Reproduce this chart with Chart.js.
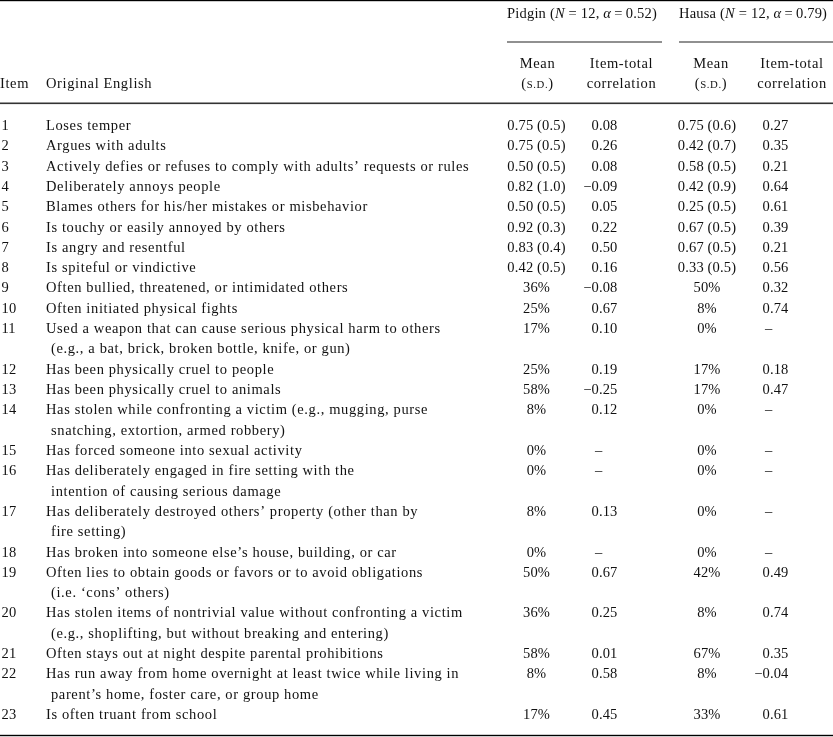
<!DOCTYPE html>
<html>
<head>
<meta charset="utf-8">
<script src="https://cdn.jsdelivr.net/npm/chart.js@4/dist/chart.umd.min.js"></script>
<style>
html,body{margin:0;padding:0;background:#fff;}
#c{display:block;}
</style>
</head>
<body>
<canvas id="c" width="833" height="737"></canvas>
<script>
// ---------------- DATA ----------------
const items = [1,2,3,4,5,6,7,8,9,10,11,12,13,14,15,16,17,18,19,20,21,22,23];
const descriptions = [
  ["Loses temper"],
  ["Argues with adults"],
  ["Actively defies or refuses to comply with adults\u2019 requests or rules"],
  ["Deliberately annoys people"],
  ["Blames others for his/her mistakes or misbehavior"],
  ["Is touchy or easily annoyed by others"],
  ["Is angry and resentful"],
  ["Is spiteful or vindictive"],
  ["Often bullied, threatened, or intimidated others"],
  ["Often initiated physical fights"],
  ["Used a weapon that can cause serious physical harm to others", "(e.g., a bat, brick, broken bottle, knife, or gun)"],
  ["Has been physically cruel to people"],
  ["Has been physically cruel to animals"],
  ["Has stolen while confronting a victim (e.g., mugging, purse", "snatching, extortion, armed robbery)"],
  ["Has forced someone into sexual activity"],
  ["Has deliberately engaged in fire setting with the", "intention of causing serious damage"],
  ["Has deliberately destroyed others\u2019 property (other than by", "fire setting)"],
  ["Has broken into someone else\u2019s house, building, or car"],
  ["Often lies to obtain goods or favors or to avoid obligations", "(i.e. \u2018cons\u2019 others)"],
  ["Has stolen items of nontrivial value without confronting a victim", "(e.g., shoplifting, but without breaking and entering)"],
  ["Often stays out at night despite parental prohibitions"],
  ["Has run away from home overnight at least twice while living in", "parent\u2019s home, foster care, or group home"],
  ["Is often truant from school"]
];
// Means: items 1-8 are mean scores (with s.d.), items 9-23 are percentages
const pidginMean = [0.75,0.75,0.50,0.82,0.50,0.92,0.83,0.42,36,25,17,25,58,8,0,0,8,0,50,36,58,8,17];
const pidginSD   = [0.5,0.5,0.5,1.0,0.5,0.3,0.4,0.5,null,null,null,null,null,null,null,null,null,null,null,null,null,null,null];
const pidginR    = [0.08,0.26,0.08,-0.09,0.05,0.22,0.50,0.16,-0.08,0.67,0.10,0.19,-0.25,0.12,null,null,0.13,null,0.67,0.25,0.01,0.58,0.45];
const hausaMean  = [0.75,0.42,0.58,0.42,0.25,0.67,0.67,0.33,50,8,0,17,17,0,0,0,0,0,42,8,67,8,33];
const hausaSD    = [0.6,0.7,0.5,0.9,0.5,0.5,0.5,0.5,null,null,null,null,null,null,null,null,null,null,null,null,null,null,null];
const hausaR     = [0.27,0.35,0.21,0.64,0.61,0.39,0.21,0.56,0.32,0.74,null,0.18,0.47,null,null,null,null,null,0.49,0.74,0.35,-0.04,0.61];
const groups = [
  {name:"Pidgin", n:12, alpha:0.52},
  {name:"Hausa",  n:12, alpha:0.79}
];
const colHeaders = [["Mean","(S.D.)"],["Item-total","correlation"]];
const leftHeaders = ["Item","Original English"];

// ---------------- LAYOUT / STYLE ----------------
const FONT = '"Liberation Serif", "Times New Roman", serif';
const FS = 14.5;
const INK = '#111';
const LS_TEXT = '0.62px';
const LS_NUM = '0.15px';
const LS_HEAD = '0.2px';

// line index of each item (rows with wrapped text take extra lines)
const lineIndex = [];
{ let L = 0; descriptions.forEach(d => { lineIndex.push(L); L += d.length; }); }

function fmtMean(m, sd){
  return sd == null ? (m + '%') : (m.toFixed(2) + ' (' + sd.toFixed(1) + ')');
}
function fmtR(r){
  if (r == null) return null;
  return (r < 0 ? '\u2212' : '') + Math.abs(r).toFixed(2);
}

const X = {
  item: 1.5, desc: 46, cont: 51,
  pMean: 536.5, pR: 617.5, pDash: 595,
  hMean: 707, hR: 788.5, hDash: 765
};

function drawSegs(ctx, segs, x, y, align){
  let w = 0;
  segs.forEach(s => { ctx.font = s.font; w += ctx.measureText(s.t).width; });
  let cx = align === 'center' ? x - w/2 : (align === 'right' ? x - w : x);
  segs.forEach(s => { ctx.font = s.font; ctx.textAlign = 'left'; ctx.fillText(s.t, cx, y); cx += ctx.measureText(s.t).width; });
}

const tablePlugin = {
  id: 'tablePlugin',
  afterDatasetsDraw(chart){
    const ctx = chart.ctx;
    const W = chart.width;
    ctx.save();
    ctx.textBaseline = 'alphabetic';
    const reg = `${FS}px ${FONT}`;
    const ital = `italic ${FS}px ${FONT}`;
    const sc = `${FS*0.74}px ${FONT}`;

    // rules
    ctx.fillStyle = '#000';
    ctx.fillRect(0, 0, W, 1.2);
    ctx.fillStyle = '#333';
    ctx.fillRect(0, 102.5, W, 1.6);
    ctx.fillStyle = '#222';
    ctx.fillRect(507, 41.5, 155, 1);
    ctx.fillRect(679, 41.5, W-679, 1);
    ctx.fillStyle = '#000';
    ctx.fillRect(0, 734.8, W, 1.4);

    ctx.fillStyle = INK;
    ctx.letterSpacing = LS_HEAD;
    // group headers
    const gx = [507, 679];
    groups.forEach((g, i) => {
      drawSegs(ctx, [
        {t: g.name + ' (', font: reg},
        {t: 'N', font: ital},
        {t: ' = ' + g.n + ', ', font: reg},
        {t: '\u03B1', font: ital},
        {t: '\u2009=\u20090' + g.alpha.toFixed(2).slice(1) + ')', font: reg}
      ], gx[i], 18.3, 'left');
    });
    // column headers
    ctx.letterSpacing = LS_TEXT;
    const meanCx = [537.5, 711];
    const rCx = [621.5, 792];
    [0,1].forEach(i => {
      drawSegs(ctx, [{t: colHeaders[0][0], font: reg}], meanCx[i], 68.3, 'center');
      drawSegs(ctx, [{t:'(', font: reg},{t:'S.D.', font: sc},{t:')', font: reg}], meanCx[i], 88, 'center');
      drawSegs(ctx, [{t: colHeaders[1][0], font: reg}], rCx[i], 68.3, 'center');
      drawSegs(ctx, [{t: colHeaders[1][1], font: reg}], rCx[i], 88, 'center');
    });
    ctx.font = reg; ctx.textAlign = 'left';
    ctx.fillText(leftHeaders[0], 0, 88);
    ctx.fillText(leftHeaders[1], X.desc, 88);

    // body rows from dataset points (y via scale)
    const meta = chart.getDatasetMeta(0);
    const ys = chart.scales.y;
    items.forEach((it, i) => {
      const y = meta.data[i].y;
      ctx.font = reg;
      ctx.letterSpacing = LS_NUM;
      ctx.textAlign = 'left';
      ctx.fillText(String(it), X.item, y);
      ctx.letterSpacing = LS_TEXT;
      descriptions[i].forEach((line, k) => {
        const yy = ys.getPixelForValue(lineIndex[i] + k);
        ctx.fillText(line, k === 0 ? X.desc : X.cont, yy);
      });
      ctx.letterSpacing = LS_NUM;
      ctx.textAlign = 'center';
      ctx.fillText(fmtMean(pidginMean[i], pidginSD[i]), X.pMean, y);
      ctx.fillText(fmtMean(hausaMean[i], hausaSD[i]), X.hMean, y);
      const pr = fmtR(pidginR[i]), hr = fmtR(hausaR[i]);
      if (pr) { ctx.textAlign = 'right'; ctx.fillText(pr, X.pR, y); }
      else { ctx.textAlign = 'left'; ctx.fillText('\u2013', X.pDash, y); }
      if (hr) { ctx.textAlign = 'right'; ctx.fillText(hr, X.hR, y); }
      else { ctx.textAlign = 'left'; ctx.fillText('\u2013', X.hDash, y); }
    });
    ctx.restore();
  }
};

// scale range chosen so that line 0 baseline sits at 130px and line 29 at 719px
const yMin = -6.401, yMax = 29.886;

new Chart(document.getElementById('c'), {
  type: 'scatter',
  data: {
    datasets: [{
      data: items.map((it, i) => ({x: 0.5, y: lineIndex[i]})),
      pointRadius: 0,
      pointHoverRadius: 0
    }]
  },
  options: {
    responsive: false,
    animation: false,
    events: [],
    layout: {padding: 0},
    plugins: {legend: {display: false}, tooltip: {enabled: false}},
    scales: {
      x: {display: false, min: 0, max: 1},
      y: {display: false, reverse: true, min: yMin, max: yMax}
    }
  },
  plugins: [tablePlugin]
});
</script>
</body>
</html>
